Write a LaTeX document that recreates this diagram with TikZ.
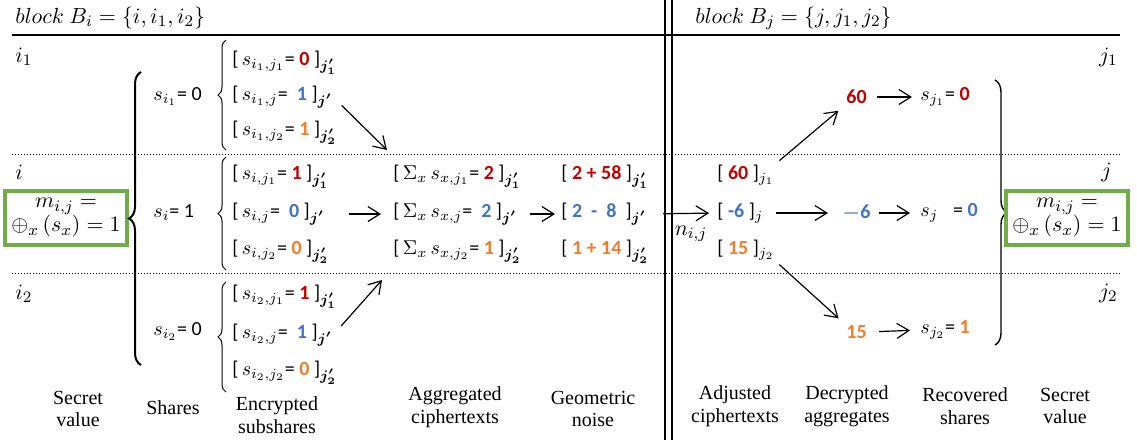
\documentclass[tikz,border=0pt]{standalone}
\usepackage{amsmath}
\usepackage{amssymb}
\usepackage{fontspec}
\setmainfont{Liberation Serif}
\setsansfont{Carlito}
\usepackage{xcolor}
\usepackage{tikz}
\usetikzlibrary{
  arrows.meta,
  positioning,
  calc,
  decorations.pathreplacing
}
\definecolor{ssRed}{HTML}{C00000}
\definecolor{ssBlue}{HTML}{4472C4}
\definecolor{ssOrange}{HTML}{ED7D31}
\definecolor{ssGreen}{HTML}{70AD47}
\newcommand{\cR}[1]{\textcolor{ssRed}{\textsf{\bfseries #1}}}
\newcommand{\cB}[1]{\textcolor{ssBlue}{\textsf{\bfseries #1}}}
\newcommand{\cO}[1]{\textcolor{ssOrange}{\textsf{\bfseries #1}}}
\newcommand{\encsub}[3]{\textsf{[}\,$s_{#1}$\textsf{= #2 ]}$_{\boldsymbol{#3}}$}
\newcommand{\aggsub}[3]{\textsf{[}\,$\Sigma_x\, s_{#1}$\textsf{= #2 ]}$_{\boldsymbol{#3}}$}
\tikzset{
  lbl/.style={inner sep=0pt, anchor=west, font=\normalsize},
  mathlbl/.style={lbl, font=\fontsize{11}{13}\selectfont},
  caption/.style={inner sep=0pt, align=center, font=\normalsize\linespread{0.95}\selectfont},
  secretbox/.style={draw=ssGreen, line width=2pt, minimum width=61pt, minimum height=27pt,
    inner sep=1pt, align=center, font=\fontsize{11}{12}\selectfont},
  arr/.style={-{Straight Barb[length=6pt, width=7.5pt]}, line width=0.6pt},
  rule/.style={line width=0.8pt},
  sepline/.style={densely dotted, line width=0.5pt},
  bigbrace/.style={decorate, decoration={brace, amplitude=6pt}, line width=1pt},
  smallbrace/.style={decorate, decoration={brace, amplitude=4pt}, line width=0.5pt}
}
\begin{document}
\begin{tikzpicture}[x=0.5pt, y=-0.5pt]
  \useasboundingbox (0,0) rectangle (1137,440);
  % table rules
  \draw[rule] (12,35) -- (1120,35);
  \draw[sepline] (12,154) -- (1120,154);
  \draw[sepline] (12,273) -- (1120,273);
  \draw[line width=0.6pt] (665,0) -- (665,440);
  \draw[line width=0.6pt] (672,0) -- (672,440);

  \node[mathlbl] (hdi) at (15,18) {$block\ B_i = \{i, i_1, i_2\}$};
  \node[mathlbl] (hdj) at (695,18) {$block\ B_j = \{j, j_1, j_2\}$};

  % row labels
  \node[mathlbl] (ri1) at (15,57) {$i_1$};
  \node[mathlbl] (ri) at (15,172) {$i$};
  \node[mathlbl] (ri2) at (15,294) {$i_2$};
  \node[mathlbl, anchor=east] (rj1) at (1118,57) {$j_1$};
  \node[mathlbl, anchor=east] (rj) at (1112,172) {$j$};
  \node[mathlbl, anchor=east] (rj2) at (1118,293) {$j_2$};

  % secret value, block i
  \node[secretbox] (mi) at (66,218) {$m_{i,j} =$\\$\oplus_x\,(s_x) = 1$};
  \draw[bigbrace] (141,365) -- (141,72);

  % shares
  \node[lbl] (sh1) at (153,97) {$s_{i_1}$\textsf{= 0}};
  \node[lbl] (sh) at (153,213) {$s_{i}$\textsf{= 1}};
  \node[lbl] (sh2) at (153,332) {$s_{i_2}$\textsf{= 0}};

  % encrypted subshares
  \draw[smallbrace] (226,150) -- (226,40);
  \draw[smallbrace] (226,270) -- (226,157);
  \draw[smallbrace] (226,392) -- (226,282);
  \node[lbl] (e1a) at (232,63) {\encsub{i_1,j_1}{\cR{0}}{j'_1}};
  \node[lbl] (e1b) at (232,97) {\encsub{i_1,j}{\ \cB{1}}{j'}};
  \node[lbl] (e1c) at (232,133) {\encsub{i_1,j_2}{\cO{1}}{j'_2}};
  \node[lbl] (e2a) at (232,177) {\encsub{i,j_1}{\cR{1}}{j'_1}};
  \node[lbl] (e2b) at (232,214) {\encsub{i,j}{\ \cB{0}}{j'}};
  \node[lbl] (e2c) at (232,252) {\encsub{i,j_2}{\cO{0}}{j'_2}};
  \node[lbl] (e3a) at (232,297) {\encsub{i_2,j_1}{\cR{1}}{j'_1}};
  \node[lbl] (e3b) at (232,335) {\encsub{i_2,j}{\ \cB{1}}{j'}};
  \node[lbl] (e3c) at (232,373) {\encsub{i_2,j_2}{\cO{0}}{j'_2}};

  % aggregated ciphertexts
  \node[lbl] (ag1) at (393,177) {\aggsub{x,j_1}{\cR{2}}{j'_1}};
  \node[lbl] (ag2) at (393,214) {\aggsub{x,j}{\ \cB{2}}{j'}};
  \node[lbl] (ag3) at (393,252) {\aggsub{x,j_2}{\cO{1}}{j'_2}};
  \coordinate (agin1) at (387,150);
  \coordinate (agin3) at (382,280);
  \draw[arr, shorten <=6pt] (e1b.east) -- (agin1);
  \draw[arr, shorten <=12pt, shorten >=6pt] (e2b.east) -- (ag2.west);
  \draw[arr, shorten <=6pt] (e3b.east) -- (agin3);

  % geometric noise
  \node[lbl] (gn1) at (561,177) {\textsf{[ \cR{2 + 58} ]}$_{\boldsymbol{j'_1}}$};
  \node[lbl] (gn2) at (561,214) {\textsf{[ \cB{2 \ - \ 8} \ ]}$_{\boldsymbol{j'}}$};
  \node[lbl] (gn3) at (561,252) {\textsf{[ \cO{1 + 14} ]}$_{\boldsymbol{j'_2}}$};
  \draw[arr, shorten <=6pt, shorten >=3pt] (ag2.east) -- (gn2.west);

  % adjusted ciphertexts
  \node[lbl] (ad1) at (717,175) {\textsf{[ \cR{60} ]}$_{j_1}$};
  \node[lbl] (ad2) at (717,213) {\textsf{[ \cB{-6} ]}$_{j}$};
  \node[lbl] (ad3) at (717,250) {\textsf{[ \cO{15} ]}$_{j_2}$};
  \draw[arr, shorten <=8pt, shorten >=4pt] (gn2.east) -- (ad2.west);
  \node[mathlbl, anchor=center] (nij) at (691,234) {$n_{i,j}$};

  % decrypted aggregates
  \node[lbl] (dc1) at (846,97) {\cR{60}};
  \node[lbl] (dc2) at (842,213) {\textcolor{ssBlue}{\boldmath$-$\textsf{\bfseries 6}}};
  \node[lbl] (dc3) at (846,332) {\cO{15}};
  \draw[arr, shorten <=3pt, shorten >=5pt] (ad1.north east) -- (dc1.south west);
  \draw[arr, shorten <=6pt, shorten >=7pt] (ad2.east) -- (dc2.west);
  \draw[arr, shorten <=3pt, shorten >=5pt] (ad3.south east) -- (dc3.north west);

  % recovered shares
  \node[lbl] (rs1) at (920,97) {$s_{j_1}$\textsf{= \cR{0}}};
  \node[lbl] (rs2) at (920,213) {$s_{j}$\ \ \ \textsf{= \cB{0}}};
  \node[lbl] (rs3) at (920,330) {$s_{j_2}$\textsf{= \cO{1}}};
  \draw[arr, shorten <=5pt, shorten >=4pt] (dc1.east) -- (rs1.west);
  \draw[arr, shorten <=4pt, shorten >=5pt] (dc2.east) -- (rs2.west);
  \draw[arr, shorten <=6pt, shorten >=5pt] (dc3.east) -- (rs3.west);

  % secret value, block j
  \draw[bigbrace, line width=0.7pt] (995,80) -- (995,345);
  \node[secretbox] (mj) at (1067,218) {$m_{i,j} =$\\$\oplus_x\,(s_x) = 1$};

  % captions
  \node[caption] (cp1) at (78,409) {Secret\\value};
  \node[caption] (cp2) at (173,408) {Shares};
  \node[caption] (cp3) at (277,415) {Encrypted\\subshares};
  \node[caption] (cp4) at (455,407) {Aggregated\\ciphertexts};
  \node[caption] (cp5) at (593,409) {Geometric\\noise};
  \node[caption] (cp6) at (735,406) {Adjusted\\ciphertexts};
  \node[caption] (cp7) at (847,406) {Decrypted\\aggregates};
  \node[caption] (cp8) at (965,406) {Recovered\\shares};
  \node[caption] (cp9) at (1065,406) {Secret\\value};
\end{tikzpicture}
\end{document}
